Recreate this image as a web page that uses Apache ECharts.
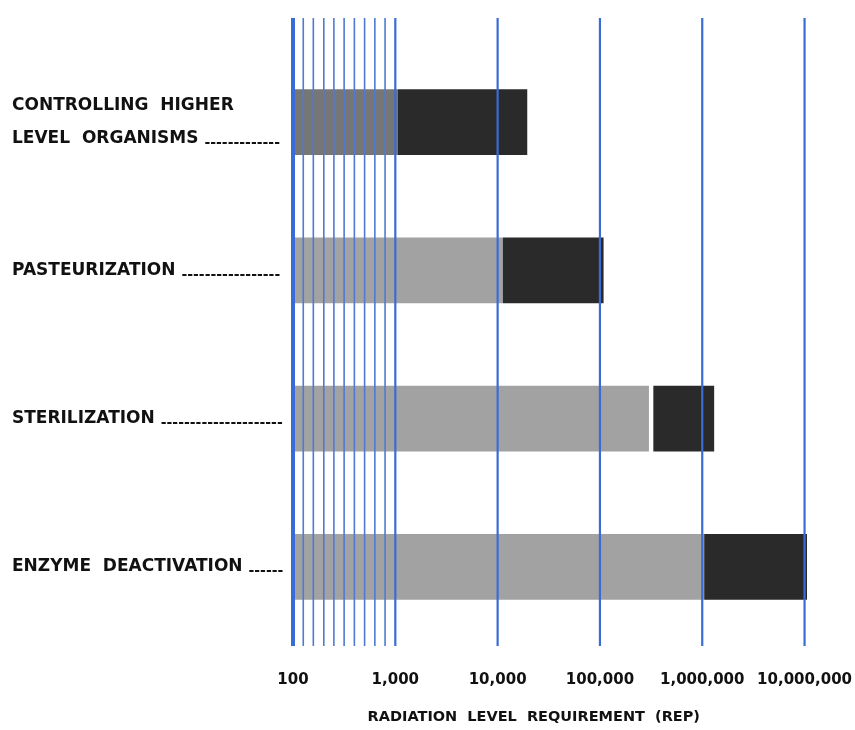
<!DOCTYPE html>
<html><head><meta charset="utf-8">
<script src="https://cdn.jsdelivr.net/npm/echarts@6/dist/echarts.min.js"></script>
<style>html,body{margin:0;padding:0;background:#fff}#c{width:855px;height:730px}</style>
</head><body><div id="c"></div><script>
// ---- data ----
const categories = ['CONTROLLING  HIGHER\nLEVEL  ORGANISMS', 'PASTEURIZATION', 'STERILIZATION', 'ENZYME  DEACTIVATION'];
const leaders = ['-------------', '-----------------', '---------------------', '------'];
const lightStart = [100, 100, 100, 100];
const lightEnd = [1050, 11000, 290000, 1000000];
const darkStart = [1050, 11000, 320000, 1000000];
const darkEnd = [19000, 105000, 1250000, 10000000];
const majorTicks = [100, 1000, 10000, 100000, 1000000, 10000000];
const minorTicks = [126, 158, 200, 251, 316, 398, 501, 631, 794];
const xName = 'RADIATION  LEVEL  REQUIREMENT  (REP)';

// ---- chart ----
const FONT = 'DejaVu Sans';
const LIGHT = '#a2a2a2', LIGHT_DARKER = '#767676', DARK = '#2a2a2a', BLUE = '#3b6cd6';
const chart = echarts.init(document.getElementById('c'), null, {renderer: 'canvas'});

function barItem(params, api) {
  const cat = api.value(0);
  const s = api.coord([api.value(1), cat]);
  const e = api.coord([api.value(2), cat]);
  const h = api.size([0, 1])[1] * 0.445;
  return {type: 'rect', shape: {x: s[0], y: s[1] - h / 2, width: e[0] - s[0], height: h},
          style: {fill: api.visual('color')}};
}
function lineItem(params, api) {
  const v = api.value(0);
  const p0 = api.coord([v, 0]);
  const p1 = api.coord([v, 1]);
  const minor = minorTicks.indexOf(v) >= 0;
  const w = v === 100 ? 4 : (minor ? 1.6 : 2.2);
  return {type: 'line', shape: {x1: p0[0], y1: p0[1], x2: p1[0], y2: p1[1]},
          style: {stroke: minor ? '#5079d4' : BLUE, lineWidth: w}};
}

const lightData = categories.map((c, i) => (
  i === 0 ? {value: [i, lightStart[i], lightEnd[i]], itemStyle: {color: LIGHT_DARKER}}
          : {value: [i, lightStart[i], lightEnd[i]]}));
const darkData = categories.map((c, i) => [i, darkStart[i], darkEnd[i]]);
const lineData = majorTicks.concat(minorTicks).map(v => [v, 0]);

chart.setOption({
  animation: false,
  backgroundColor: '#fff',
  grid: [
    {left: 293, right: 48, top: 48, height: 593},
    {left: 293, right: 48, top: 18, height: 637}
  ],
  xAxis: [
    {gridIndex: 0, type: 'log', logBase: 10, min: 100, max: 10000000, show: false},
    {gridIndex: 1, type: 'log', logBase: 10, min: 100, max: 10000000, splitNumber: 5,
     axisLine: {show: false}, axisTick: {show: false}, splitLine: {show: false},
     axisLabel: {margin: 27, fontFamily: FONT, fontWeight: 'bold', fontSize: 15, color: '#111',
                 formatter: v => Number(v).toLocaleString('en-US')},
     name: xName, nameLocation: 'middle', nameGap: 64,
     nameTextStyle: {fontFamily: FONT, fontWeight: 'bold', fontSize: 14.5, color: '#111',
                     padding: [0, 30, 0, 0]}}
  ],
  yAxis: [
    {gridIndex: 0, type: 'category', data: categories, inverse: true,
     axisLine: {show: false}, axisTick: {show: false}, splitLine: {show: false},
     axisLabel: {align: 'left', margin: 281, fontFamily: FONT, fontWeight: 'bold', fontSize: 17,
                 color: '#111', lineHeight: 33,
                 formatter: (v, i) => v + ' {d|' + leaders[i] + '}',
                 rich: {d: {fontFamily: FONT, fontWeight: 'bold', fontSize: 14, color: '#111',
                            padding: [9, 0, 0, 0]}}}},
    {gridIndex: 1, type: 'value', min: 0, max: 1, show: false}
  ],
  series: [
    {type: 'custom', xAxisIndex: 0, yAxisIndex: 0, renderItem: barItem, data: lightData,
     itemStyle: {color: LIGHT}, encode: {x: [1, 2], y: 0}, z: 2},
    {type: 'custom', xAxisIndex: 0, yAxisIndex: 0, renderItem: barItem, data: darkData,
     itemStyle: {color: DARK}, encode: {x: [1, 2], y: 0}, z: 3},
    {type: 'custom', xAxisIndex: 1, yAxisIndex: 1, renderItem: lineItem, data: lineData,
     encode: {x: 0, y: 1}, z: 5, silent: true}
  ]
});
</script></body></html>
